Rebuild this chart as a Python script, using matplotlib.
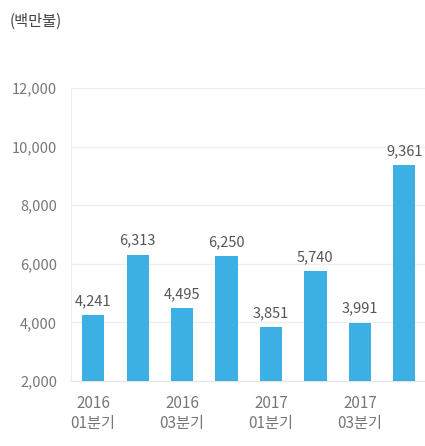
import matplotlib
matplotlib.use("Agg")
import matplotlib.pyplot as plt

plt.rcParams['font.family'] = ['Noto Sans CJK KR', 'DejaVu Sans']

categories = ["2016\n01분기", "2016\n02분기", "2016\n03분기", "2016\n04분기",
              "2017\n01분기", "2017\n02분기", "2017\n03분기", "2017\n04분기",
              "2018\n01분기"]
values = [4241, 6313, 4495, 6250, 3851, 5740, 3991, 9361]
yticks = [2000, 4000, 6000, 8000, 10000, 12000]
unit_label = "(백만불)"

W, H = 425, 446
fig = plt.figure(figsize=(W / 100, H / 100), dpi=100)
left, bottom, top = 71 / W, (H - 381) / H, (H - 88) / H
ax = fig.add_axes([left, bottom, 400 / W, top - bottom])

bar_color = "#3CB0E5"
x = list(range(len(values)))
ax.bar(x, values, width=0.5, color=bar_color, zorder=3)

for xi, v in zip(x, values):
    ax.annotate(f"{v:,}", (xi, v), xytext=(0, 5), textcoords="offset points",
                ha="center", va="bottom", fontsize=10.5, color="#555555")

ax.set_ylim(2000, 12000)
ax.set_xlim(-0.5, len(categories) - 0.5)
ax.set_yticks(yticks)
ax.set_yticklabels([f"{t:,}" for t in yticks])
ticks = list(range(0, len(categories), 2))
ax.set_xticks(ticks)
ax.set_xticklabels([categories[i] for i in ticks])

ax.grid(axis="y", color="#eeeeee", linewidth=1, zorder=0)
for s in ["top", "right"]:
    ax.spines[s].set_visible(False)
ax.spines["left"].set_color("#eeeeee")
ax.spines["bottom"].set_color("#e6e6e6")
ax.tick_params(axis="both", length=0, colors="#777777")
ax.tick_params(axis="y", pad=10, labelsize=10.5)
ax.tick_params(axis="x", pad=10, labelsize=11)
for lab in ax.get_xticklabels():
    lab.set_linespacing(1.25)

fig.text(10 / W, 1 - 21 / H, unit_label, ha="left", va="center",
         fontsize=11, color="#444444")

fig.savefig("out.png", dpi=100)
